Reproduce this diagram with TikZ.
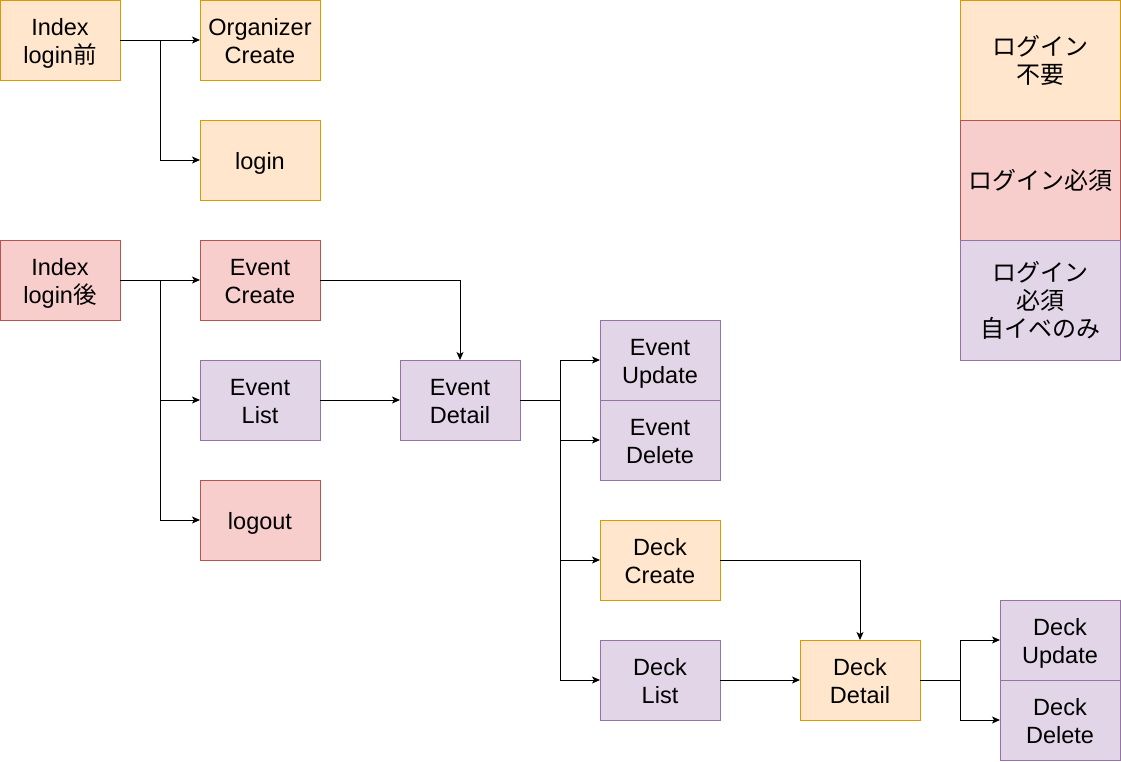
\documentclass[tikz,border=0pt]{standalone}
\usepackage{fontspec}
\setmainfont{Liberation Sans}
\newfontfamily\cjk{Noto Sans CJK JP}
\usetikzlibrary{arrows.meta}
\definecolor{ofill}{HTML}{FFE6CC}\definecolor{odraw}{HTML}{D79B00}
\definecolor{rfill}{HTML}{F8CECC}\definecolor{rdraw}{HTML}{B85450}
\definecolor{pfill}{HTML}{E1D5E7}\definecolor{pdraw}{HTML}{9673A6}
\newcommand\boxtext[1]{\raisebox{-4pt}[\height][\depth]{\begin{tabular}{@{}c@{}}#1\end{tabular}}}
\tikzset{
  pagebox/.style={draw, line width=1pt, minimum width=120pt, minimum height=80pt, inner sep=0pt, outer sep=0pt, align=center, font=\fontsize{23.5pt}{28pt}\selectfont, anchor=north west},
  onode/.style={pagebox, fill=ofill, draw=odraw},
  rnode/.style={pagebox, fill=rfill, draw=rdraw},
  pnode/.style={pagebox, fill=pfill, draw=pdraw},
  legend/.style={minimum width=160pt, minimum height=120pt, font=\cjk\fontsize{24pt}{28pt}\selectfont},
  conn/.style={line width=1pt, -{Stealth[length=8pt,width=7pt,inset=2pt]}},
  seg/.style={line width=1pt}
}
\begin{document}
\begin{tikzpicture}[x=1pt,y=-1pt]
\useasboundingbox (0,0) rectangle (1121,761);
% top group
\node[onode] (idx1) at (0,0) {\boxtext{Index\\login{\cjk 前}}};
\node[onode] (org) at (200,0) {\boxtext{Organizer\\Create}};
\node[onode] (login) at (200,120) {\boxtext{login}};
% main group
\node[rnode] (idx2) at (0,240) {\boxtext{Index\\login{\cjk 後}}};
\node[rnode] (ecreate) at (200,240) {\boxtext{Event\\Create}};
\node[pnode] (elist) at (200,360) {\boxtext{Event\\List}};
\node[rnode] (logout) at (200,480) {\boxtext{logout}};
\node[pnode] (edetail) at (400,360) {\boxtext{Event\\Detail}};
\node[pnode] (eupdate) at (600,320) {\boxtext{Event\\Update}};
\node[pnode] (edelete) at (600,400) {\boxtext{Event\\Delete}};
\node[onode] (dcreate) at (600,520) {\boxtext{Deck\\Create}};
\node[pnode] (dlist) at (600,640) {\boxtext{Deck\\List}};
\node[onode] (ddetail) at (800,640) {\boxtext{Deck\\Detail}};
\node[pnode] (dupdate) at (1000,600) {\boxtext{Deck\\Update}};
\node[pnode] (ddelete) at (1000,680) {\boxtext{Deck\\Delete}};
% legend
\node[onode, legend] (lg1) at (960,0) {ログイン\\不要};
\node[rnode, legend] (lg2) at (960,120) {ログイン必須};
\node[pnode, legend] (lg3) at (960,240) {ログイン\\必須\\自イベのみ};
% junction coordinates
\coordinate (j1) at ([xshift=40pt]idx1.east);
\coordinate (j2) at ([xshift=40pt]idx2.east);
\coordinate (j3) at ([xshift=40pt]edetail.east);
\coordinate (j4) at ([xshift=40pt]ddetail.east);
% connectors
\draw[conn] (idx1.east) -- (org.west);
\draw[conn] (j1) |- (login.west);
\draw[conn] (idx2.east) -- (ecreate.west);
\draw[conn] (j2) |- (elist.west);
\draw[conn] (j2) |- (logout.west);
\draw[conn] (ecreate.east) -| (edetail.north);
\draw[conn] (elist.east) -- (edetail.west);
\draw[seg] (edetail.east) -- (j3);
\draw[conn] (j3) |- (eupdate.west);
\draw[conn] (j3) |- (edelete.west);
\draw[conn] (j3) |- (dcreate.west);
\draw[conn] (j3) |- (dlist.west);
\draw[conn] (dcreate.east) -| (ddetail.north);
\draw[conn] (dlist.east) -- (ddetail.west);
\draw[seg] (ddetail.east) -- (j4);
\draw[conn] (j4) |- (dupdate.west);
\draw[conn] (j4) |- (ddelete.west);
\end{tikzpicture}
\end{document}
